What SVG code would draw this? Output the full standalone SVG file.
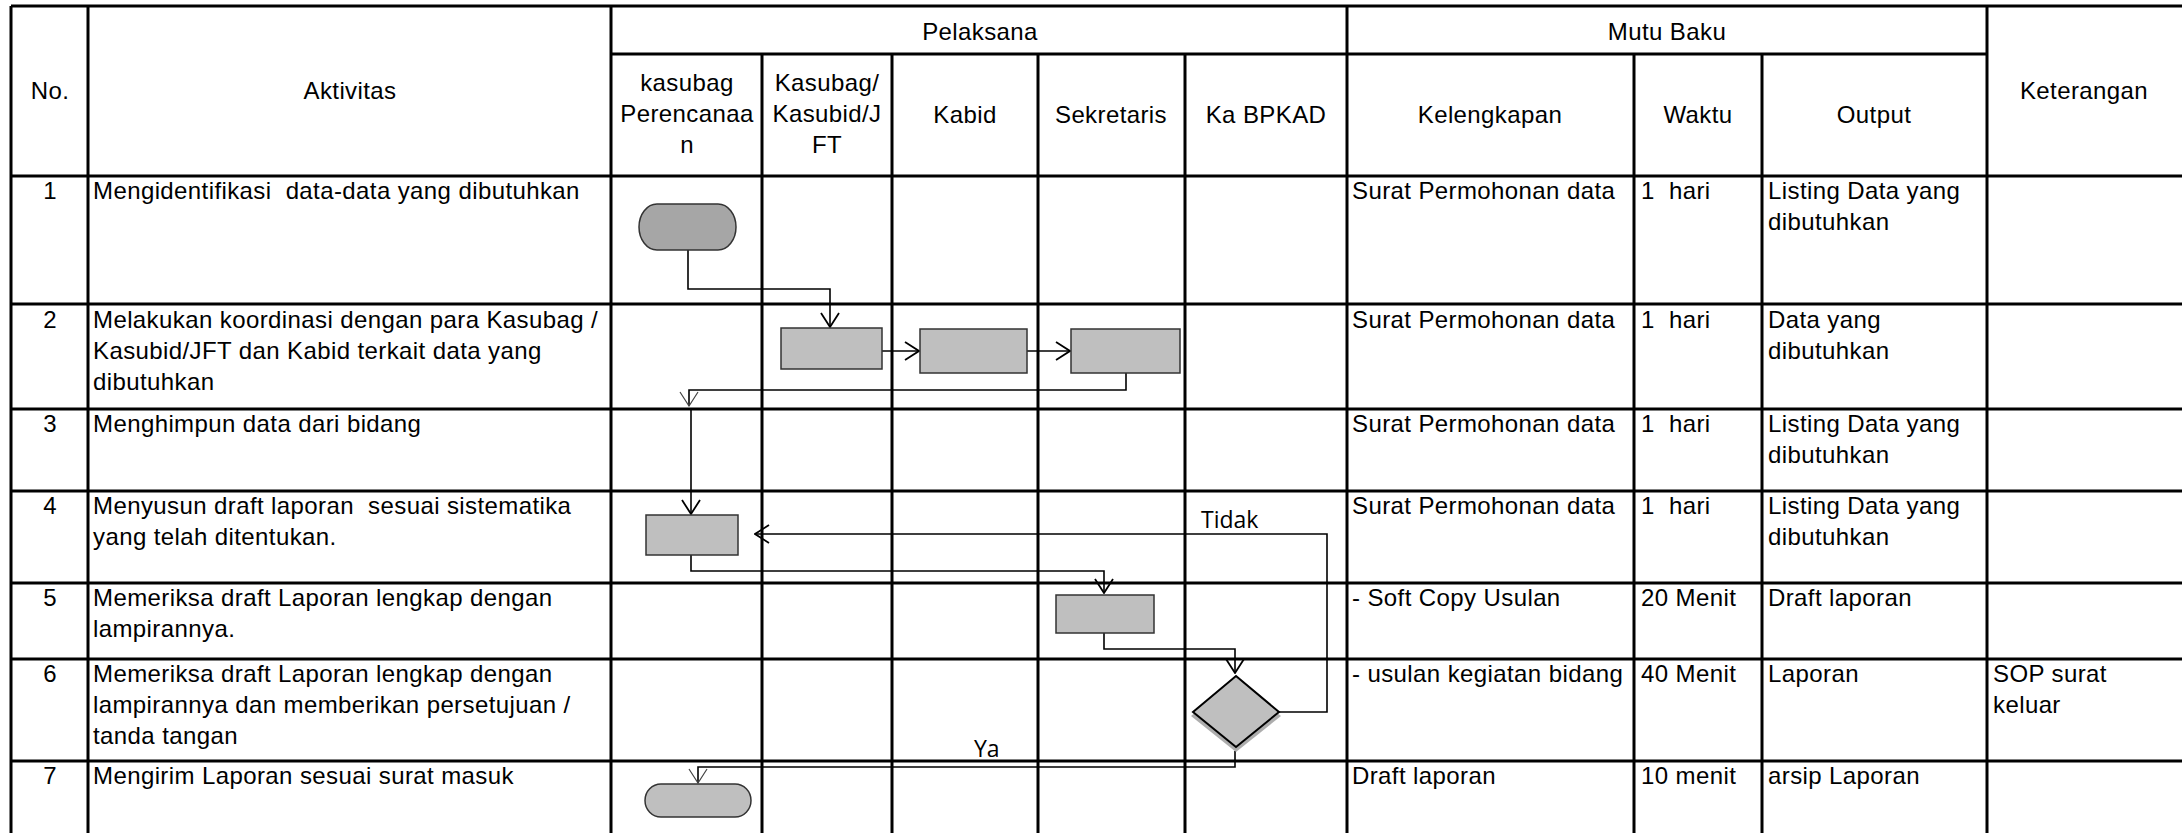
<svg xmlns="http://www.w3.org/2000/svg" width="2182" height="833" viewBox="0 0 2182 833">
<style>
.t{font-family:"Liberation Sans",Arial,sans-serif;font-size:24px;letter-spacing:0.4px;fill:#000;white-space:pre}
.c{text-anchor:middle}
.lbl{font-family:"Open Sans","DejaVu Sans",sans-serif;font-size:23px;fill:#000}
.grid{stroke:#000;stroke-width:3;fill:none}
.box{fill:#bfbfbf;stroke:#333;stroke-width:1.5}
.conn{fill:none;stroke:#000;stroke-width:1.6}
</style>
<defs>
<marker id="arr" viewBox="0 0 16 20" refX="15" refY="10" markerWidth="16" markerHeight="20" markerUnits="userSpaceOnUse" orient="auto">
<path d="M1,1 L15,10 L1,19" fill="none" stroke="#000" stroke-width="1.8"/>
</marker>
<marker id="arrl" viewBox="0 0 16 20" refX="15" refY="10" markerWidth="16" markerHeight="20" markerUnits="userSpaceOnUse" orient="auto">
<path d="M1,1 L15,10 L1,19" fill="none" stroke="#444" stroke-width="1.2"/>
</marker>
</defs>
<rect width="2182" height="833" fill="#fff"/>
<g id="grid" class="grid">
<path d="M11,6 H2182 M611,54 H1987 M11,176 H2182 M11,304 H2182 M11,409 H2182 M11,491 H2182 M11,583 H2182 M11,659 H2182 M11,761 H2182"/>
<path d="M11,6 V833 M88,6 V833 M611,6 V833 M762,54 V833 M892,54 V833 M1038,54 V833 M1185,54 V833 M1347,6 V833 M1634,54 V833 M1762,54 V833 M1987,6 V833"/>
</g>
<g id="header">
<text class="t c" x="50" y="99">No.</text>
<text class="t c" x="350" y="99">Aktivitas</text>
<text class="t c" x="980" y="40">Pelaksana</text>
<text class="t c" x="1667" y="40">Mutu Baku</text>
<text class="t c" x="2084" y="99">Keterangan</text>
<text class="t c" x="687" y="91">kasubag</text>
<text class="t c" x="687" y="122">Perencanaa</text>
<text class="t c" x="687" y="153">n</text>
<text class="t c" x="827" y="91">Kasubag/</text>
<text class="t c" x="827" y="122">Kasubid/J</text>
<text class="t c" x="827" y="153">FT</text>
<text class="t c" x="965" y="123">Kabid</text>
<text class="t c" x="1111" y="123">Sekretaris</text>
<text class="t c" x="1266" y="123">Ka BPKAD</text>
<text class="t c" x="1490" y="123">Kelengkapan</text>
<text class="t c" x="1698" y="123">Waktu</text>
<text class="t c" x="1874" y="123">Output</text>
</g>
<g id="row1">
<text class="t c" x="50" y="199">1</text>
<text class="t" x="93" y="199">Mengidentifikasi  data-data yang dibutuhkan</text>
<text class="t" x="1352" y="199">Surat Permohonan data</text>
<text class="t" x="1641" y="199">1  hari</text>
<text class="t" x="1768" y="199">Listing Data yang</text>
<text class="t" x="1768" y="230">dibutuhkan</text>
</g>
<g id="row2">
<text class="t c" x="50" y="328">2</text>
<text class="t" x="93" y="328">Melakukan koordinasi dengan para Kasubag /</text>
<text class="t" x="93" y="359">Kasubid/JFT dan Kabid terkait data yang</text>
<text class="t" x="93" y="390">dibutuhkan</text>
<text class="t" x="1352" y="328">Surat Permohonan data</text>
<text class="t" x="1641" y="328">1  hari</text>
<text class="t" x="1768" y="328">Data yang</text>
<text class="t" x="1768" y="359">dibutuhkan</text>
</g>
<g id="row3">
<text class="t c" x="50" y="432">3</text>
<text class="t" x="93" y="432">Menghimpun data dari bidang</text>
<text class="t" x="1352" y="432">Surat Permohonan data</text>
<text class="t" x="1641" y="432">1  hari</text>
<text class="t" x="1768" y="432">Listing Data yang</text>
<text class="t" x="1768" y="463">dibutuhkan</text>
</g>
<g id="row4">
<text class="t c" x="50" y="514">4</text>
<text class="t" x="93" y="514">Menyusun draft laporan  sesuai sistematika</text>
<text class="t" x="93" y="545">yang telah ditentukan.</text>
<text class="t" x="1352" y="514">Surat Permohonan data</text>
<text class="t" x="1641" y="514">1  hari</text>
<text class="t" x="1768" y="514">Listing Data yang</text>
<text class="t" x="1768" y="545">dibutuhkan</text>
</g>
<g id="row5">
<text class="t c" x="50" y="606">5</text>
<text class="t" x="93" y="606">Memeriksa draft Laporan lengkap dengan</text>
<text class="t" x="93" y="637">lampirannya.</text>
<text class="t" x="1352" y="606">- Soft Copy Usulan</text>
<text class="t" x="1641" y="606">20 Menit</text>
<text class="t" x="1768" y="606">Draft laporan</text>
</g>
<g id="row6">
<text class="t c" x="50" y="682">6</text>
<text class="t" x="93" y="682">Memeriksa draft Laporan lengkap dengan</text>
<text class="t" x="93" y="713">lampirannya dan memberikan persetujuan /</text>
<text class="t" x="93" y="744">tanda tangan</text>
<text class="t" x="1352" y="682">- usulan kegiatan bidang</text>
<text class="t" x="1641" y="682">40 Menit</text>
<text class="t" x="1768" y="682">Laporan</text>
<text class="t" x="1993" y="682">SOP surat</text>
<text class="t" x="1993" y="713">keluar</text>
</g>
<g id="row7">
<text class="t c" x="50" y="784">7</text>
<text class="t" x="93" y="784">Mengirim Laporan sesuai surat masuk</text>
<text class="t" x="1352" y="784">Draft laporan</text>
<text class="t" x="1641" y="784">10 menit</text>
<text class="t" x="1768" y="784">arsip Laporan</text>
</g>
<g id="connectors">
<path class="conn" d="M688,250 V289 H830 V327" marker-end="url(#arr)"/>
<path class="conn" d="M882,351 H919" marker-end="url(#arr)"/>
<path class="conn" d="M1027,351 H1070" marker-end="url(#arr)"/>
<path class="conn" d="M1126,373 V390 H689 V406" marker-end="url(#arrl)"/>
<path class="conn" d="M691,409 V514" marker-end="url(#arr)"/>
<path class="conn" d="M691,555 V571 H1104 V593" marker-end="url(#arr)"/>
<path class="conn" d="M1104,633 V649 H1235 V673" marker-end="url(#arr)"/>
<path class="conn" d="M1279,712 H1327 V534 H755" marker-end="url(#arr)"/>
<path class="conn" d="M1235,751 V767 H698 V783" marker-end="url(#arrl)"/>
<text class="lbl" x="1201" y="528">Tidak</text>
<text class="lbl" x="974" y="757">Ya</text>
</g>
<g id="start">
<rect x="639" y="204" width="97" height="46" rx="18" ry="23" fill="#a6a6a6" stroke="#333" stroke-width="1.5"/>
</g>
<g id="step2a"><rect class="box" x="781" y="328" width="101" height="41"/></g>
<g id="step2b"><rect class="box" x="920" y="329" width="107" height="44"/></g>
<g id="step2c"><rect class="box" x="1071" y="329" width="109" height="44"/></g>
<g id="step4"><rect class="box" x="646" y="515" width="92" height="40"/></g>
<g id="step5"><rect class="box" x="1056" y="595" width="98" height="38"/></g>
<g id="decision">
<polygon points="1236,680 1281,716 1236,752 1191,716" fill="#999" opacity="0.8"/>
<polygon points="1236,676 1279,712 1236,747 1193,712" fill="#bfbfbf" stroke="#000" stroke-width="2"/>
</g>
<g id="end">
<rect x="645" y="784" width="106" height="33" rx="16" ry="16.5" fill="#bfbfbf" stroke="#333" stroke-width="1.5"/>
</g>
</svg>
